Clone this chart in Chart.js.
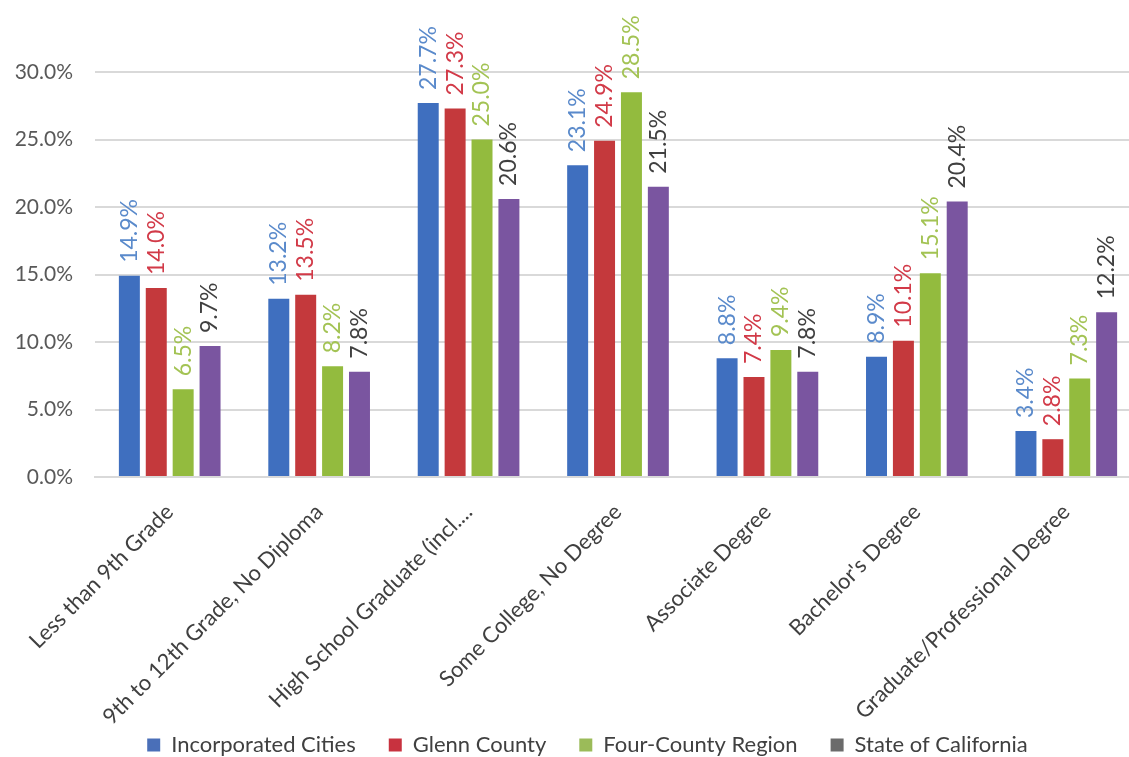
<!DOCTYPE html>
<html>
<head>
<meta charset="utf-8">
<script src="https://cdn.jsdelivr.net/npm/chart.js@4/dist/chart.umd.min.js"></script>
<style>
  html, body { margin: 0; padding: 0; background: #fff; overflow: hidden; }
  #wrap { width: 1176px; height: 766px; }
</style>
</head>
<body>
<div id="wrap"><canvas id="chart"></canvas></div>
<script>
const categories = [
  'Less than 9th Grade',
  '9th to 12th Grade, No Diploma',
  'High School Graduate (incl....',
  'Some College, No Degree',
  'Associate Degree',
  "Bachelor's Degree",
  'Graduate/Professional Degree'
];
const incorporatedCities = [14.9, 13.2, 27.7, 23.1, 8.8, 8.9, 3.4];
const glennCounty        = [14.0, 13.5, 27.3, 24.9, 7.4, 10.1, 2.8];
const fourCountyRegion   = [6.5, 8.2, 25.0, 28.5, 9.4, 15.1, 7.3];
const stateOfCalifornia  = [9.7, 7.8, 20.6, 21.5, 7.8, 20.4, 12.2];
const yTicks = [0, 5, 10, 15, 20, 25, 30];

const fontFam = 'Lato, "Open Sans", sans-serif';

// etiquetas verticales encima de cada barra
const valueLabels = {
  id: 'valueLabels',
  afterLayout(chart) {
    // que las etiquetas de los ejes no se recorten
    chart.scales.x.bottom = chart.height;
    chart.scales.y.left = 0;
  },
  afterDatasetsDraw(chart) {
    const ctx = chart.ctx;
    ctx.save();
    ctx.font = '23px ' + fontFam;
    chart.data.datasets.forEach((ds, i) => {
      const meta = chart.getDatasetMeta(i);
      meta.data.forEach((bar, j) => {
        ctx.save();
        ctx.translate(bar.x, bar.y - 13);
        ctx.rotate(-Math.PI / 2);
        ctx.fillStyle = ds.labelColor;
        ctx.textAlign = 'left';
        ctx.textBaseline = 'middle';
        ctx.fillText(ds.data[j].toFixed(1) + '%', 0, 0);
        ctx.restore();
      });
    });
    ctx.restore();
  }
};

new Chart(document.getElementById('chart'), {
  type: 'bar',
  data: {
    labels: categories,
    datasets: [
      { label: 'Incorporated Cities', data: incorporatedCities, backgroundColor: '#3f6fbf', labelColor: '#5a8acb', legendColor: '#4a6fb8' },
      { label: 'Glenn County', data: glennCounty, backgroundColor: '#c4393c', labelColor: '#d23a48', legendColor: '#c8323f' },
      { label: 'Four-County Region', data: fourCountyRegion, backgroundColor: '#93bb3e', labelColor: '#a3c354', legendColor: '#9bbb59' },
      { label: 'State of California', data: stateOfCalifornia, backgroundColor: '#7a55a0', labelColor: '#404040', legendColor: '#6b6b6b' }
    ]
  },
  options: {
    responsive: true,
    maintainAspectRatio: false,
    animation: false,
    datasets: { bar: { categoryPercentage: 0.72, barPercentage: 0.78 } },
    layout: { padding: { top: 72, right: 35, left: 34, bottom: 0 } },
    plugins: {
      tooltip: { enabled: false },
      legend: {
        position: 'bottom',
        labels: {
          font: { family: fontFam, size: 22 },
          color: '#404040',
          boxWidth: 13,
          boxHeight: 13,
          padding: 33,
          generateLabels(chart) {
            return chart.data.datasets.map((ds, i) => ({
              text: ds.label,
              fillStyle: ds.legendColor,
              strokeStyle: ds.legendColor,
              lineWidth: 0,
              fontColor: '#404040',
              datasetIndex: i
            }));
          }
        }
      }
    },
    scales: {
      x: {
        grid: { display: false },
        border: { color: '#d9d9d9', width: 2 },
        ticks: {
          font: { family: fontFam, size: 22 },
          color: '#404040',
          minRotation: 45,
          maxRotation: 45,
          autoSkip: false,
          padding: 14
        },
        afterFit(s) { s.height = 224; }
      },
      y: {
        min: 0,
        max: 30,
        afterBuildTicks(s) { s.ticks = yTicks.map(v => ({ value: v })); },
        grid: { color: '#d9d9d9', lineWidth: 2, drawTicks: false },
        border: { display: false },
        ticks: {
          font: { family: fontFam, size: 21 },
          color: '#595959',
          padding: 22,
          callback: v => v.toFixed(1) + '%'
        },
        afterFit(s) { s.width = 61; }
      }
    }
  },
  plugins: [valueLabels]
});
</script>
</body>
</html>
